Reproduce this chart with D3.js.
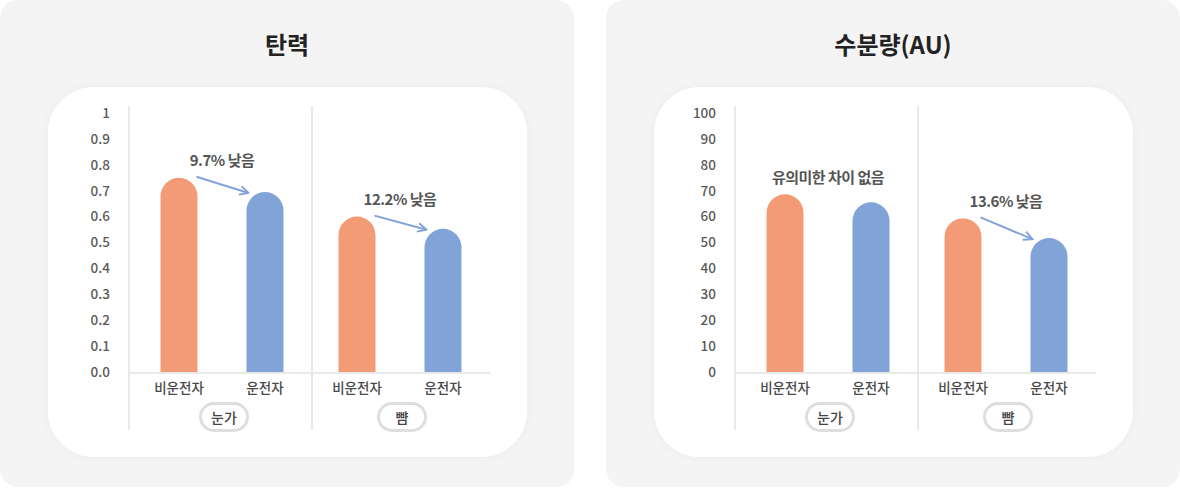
<!DOCTYPE html>
<html>
<head>
<meta charset="utf-8">
<script src="https://cdn.jsdelivr.net/npm/d3@7"></script>
<style>
  body { margin: 0; background: #fff; }
  svg { display: block; font-family: "Noto Sans CJK KR", "Noto Sans", sans-serif; }
</style>
</head>
<body>
<script>
// data
const titles = ["탄력", "수분량(AU)"]
const groups = ["눈가", "뺨"]
const drivers = ["비운전자", "운전자"]

const elasticity = [[0.75, 0.695], [0.60, 0.553]]
const moisture = [[68.6, 65.5], [59.3, 51.7]]

const elasticityTicks = [0, 0.1, 0.2, 0.3, 0.4, 0.5, 0.6, 0.7, 0.8, 0.9, 1]
const elasticityTickLabels = ["0.0", "0.1", "0.2", "0.3", "0.4", "0.5", "0.6", "0.7", "0.8", "0.9", "1"]
const moistureTicks = [0, 10, 20, 30, 40, 50, 60, 70, 80, 90, 100]
const moistureTickLabels = ["0", "10", "20", "30", "40", "50", "60", "70", "80", "90", "100"]

const elasticityNotes = ["9.7% 낮음", "12.2% 낮음"]
const moistureNotes = ["유의미한 차이 없음", "13.6% 낮음"]
const elasticityArrows = [true, true]
const moistureArrows = [false, true]

const colors = ["#f29b76", "#82a3d8"]

const svg = d3.select("body")
    .append("svg")
    .attr("width", 1180)
    .attr("height", 488)

const defs = svg.append("defs")
defs.append("marker")
    .attr("id", "arrowhead")
    .attr("viewBox", "0 0 10 10")
    .attr("refX", 9)
    .attr("refY", 5)
    .attr("markerWidth", 11)
    .attr("markerHeight", 11)
    .attr("markerUnits", "userSpaceOnUse")
    .attr("orient", "auto")
    .append("path")
    .attr("d", "M1,1 L9,5 L1,9")
    .attr("fill", "none")
    .attr("stroke", "#82a3d8")
    .attr("stroke-width", 1.7)

const shadow = defs.append("filter")
    .attr("id", "soft")
    .attr("x", "-10%").attr("y", "-10%")
    .attr("width", "120%").attr("height", "120%")
shadow.append("feDropShadow")
    .attr("dx", 0).attr("dy", 0)
    .attr("stdDeviation", 4)
    .attr("flood-color", "#000")
    .attr("flood-opacity", 0.04)

function roundTop(x, y, w, base) {
    const r = w / 2
    return `M${x},${base} V${y + r} A${r},${r} 0 0 1 ${x + w},${y + r} V${base} Z`
}

function drawPanel(g, title, values, ticks, tickLabels, notes, arrows) {
    g.append("rect")
        .attr("x", 0).attr("y", 0)
        .attr("width", 574).attr("height", 487)
        .attr("rx", 18)
        .attr("fill", "#f4f4f4")

    g.append("text")
        .attr("x", 287).attr("y", 43)
        .attr("text-anchor", "middle")
        .attr("dominant-baseline", "central")
        .attr("font-size", 24)
        .attr("font-weight", 700)
        .attr("fill", "#222")
        .text(title)

    g.append("rect")
        .attr("x", 48).attr("y", 87)
        .attr("width", 479).attr("height", 370)
        .attr("rx", 46)
        .attr("fill", "#fff")
        .attr("filter", "url(#soft)")

    const axisX = 129
    const y = d3.scaleLinear()
        .domain([0, d3.max(ticks)])
        .range([372, 113])

    const x0 = d3.scaleBand()
        .domain(groups)
        .range([axisX + 4, axisX + 360])

    const x1 = d3.scaleBand()
        .domain(drivers)
        .range([0, x0.bandwidth()])
        .paddingInner(0.57)
        .paddingOuter(0.32)

    // y axis labels only
    const yAxis = g.append("g")
        .attr("transform", `translate(${axisX},0)`)
        .call(d3.axisLeft(y)
            .tickValues(ticks)
            .tickFormat((d, i) => tickLabels[i])
            .tickSize(0)
            .tickPadding(19))
    yAxis.select(".domain").remove()
    yAxis.selectAll("text")
        .attr("font-family", "\"Noto Sans CJK KR\", sans-serif")
        .attr("font-size", 13.5)
        .attr("font-weight", 500)
        .attr("fill", "#5a5a5a")

    // vertical lines: axis + group separator
    g.selectAll(".vline")
        .data([axisX, axisX + 183])
        .enter()
        .append("line")
        .attr("class", "vline")
        .attr("x1", d => d).attr("x2", d => d)
        .attr("y1", 106).attr("y2", 430)
        .attr("stroke", "#e9e9e9")
        .attr("stroke-width", 2)

    g.append("line")
        .attr("x1", axisX).attr("x2", axisX + 361)
        .attr("y1", 373).attr("y2", 373)
        .attr("stroke", "#e9e9e9")
        .attr("stroke-width", 2)

    groups.forEach((grp, gi) => {
        const gx = x0(grp)
        const gg = g.append("g").attr("transform", `translate(${gx},0)`)

        gg.selectAll(".bar")
            .data(values[gi])
            .enter()
            .append("path")
            .attr("class", "bar")
            .attr("d", (d, i) => roundTop(x1(drivers[i]), y(d), x1.bandwidth(), y(0)))
            .attr("fill", (d, i) => colors[i])

        gg.selectAll(".cat")
            .data(drivers)
            .enter()
            .append("text")
            .attr("class", "cat")
            .attr("x", d => x1(d) + x1.bandwidth() / 2)
            .attr("y", 387)
            .attr("text-anchor", "middle")
            .attr("dominant-baseline", "central")
            .attr("font-size", 13.5)
            .attr("font-weight", 500)
            .attr("fill", "#4a4a4a")
            .text(d => d)

        const cx = x0.bandwidth() / 2 + 2
        gg.append("rect")
            .attr("x", cx - 23.5).attr("y", 403.5)
            .attr("width", 47).attr("height", 27)
            .attr("rx", 13.5)
            .attr("fill", "#fff")
            .attr("stroke", "#dedede")
            .attr("stroke-width", 3)
        gg.append("text")
            .attr("x", cx).attr("y", 417)
            .attr("text-anchor", "middle")
            .attr("dominant-baseline", "central")
            .attr("font-size", 14)
            .attr("font-weight", 500)
            .attr("fill", "#444")
            .text(grp)

        const v = values[gi]
        const b0 = x1(drivers[0]), b1 = x1(drivers[1]), bw = x1.bandwidth()
        gg.append("text")
            .attr("x", (b0 + b1 + bw) / 2)
            .attr("y", y(v[0]) - 18)
            .attr("text-anchor", "middle")
            .attr("dominant-baseline", "central")
            .attr("font-size", 15)
            .attr("font-weight", 700)
            .attr("letter-spacing", -0.5)
            .attr("fill", "#555")
            .text(notes[gi])

        if (arrows[gi]) {
            gg.append("line")
                .attr("x1", b0 + bw - 1).attr("y1", y(v[0]) - 1)
                .attr("x2", b1 + 2).attr("y2", y(v[1]) + 1)
                .attr("stroke", "#82a3d8")
                .attr("stroke-width", 2)
                .attr("marker-end", "url(#arrowhead)")
        }
    })
}

drawPanel(svg.append("g"), titles[0], elasticity, elasticityTicks, elasticityTickLabels, elasticityNotes, elasticityArrows)
drawPanel(svg.append("g").attr("transform", "translate(606,0)"), titles[1], moisture, moistureTicks, moistureTickLabels, moistureNotes, moistureArrows)
</script>
</body>
</html>
